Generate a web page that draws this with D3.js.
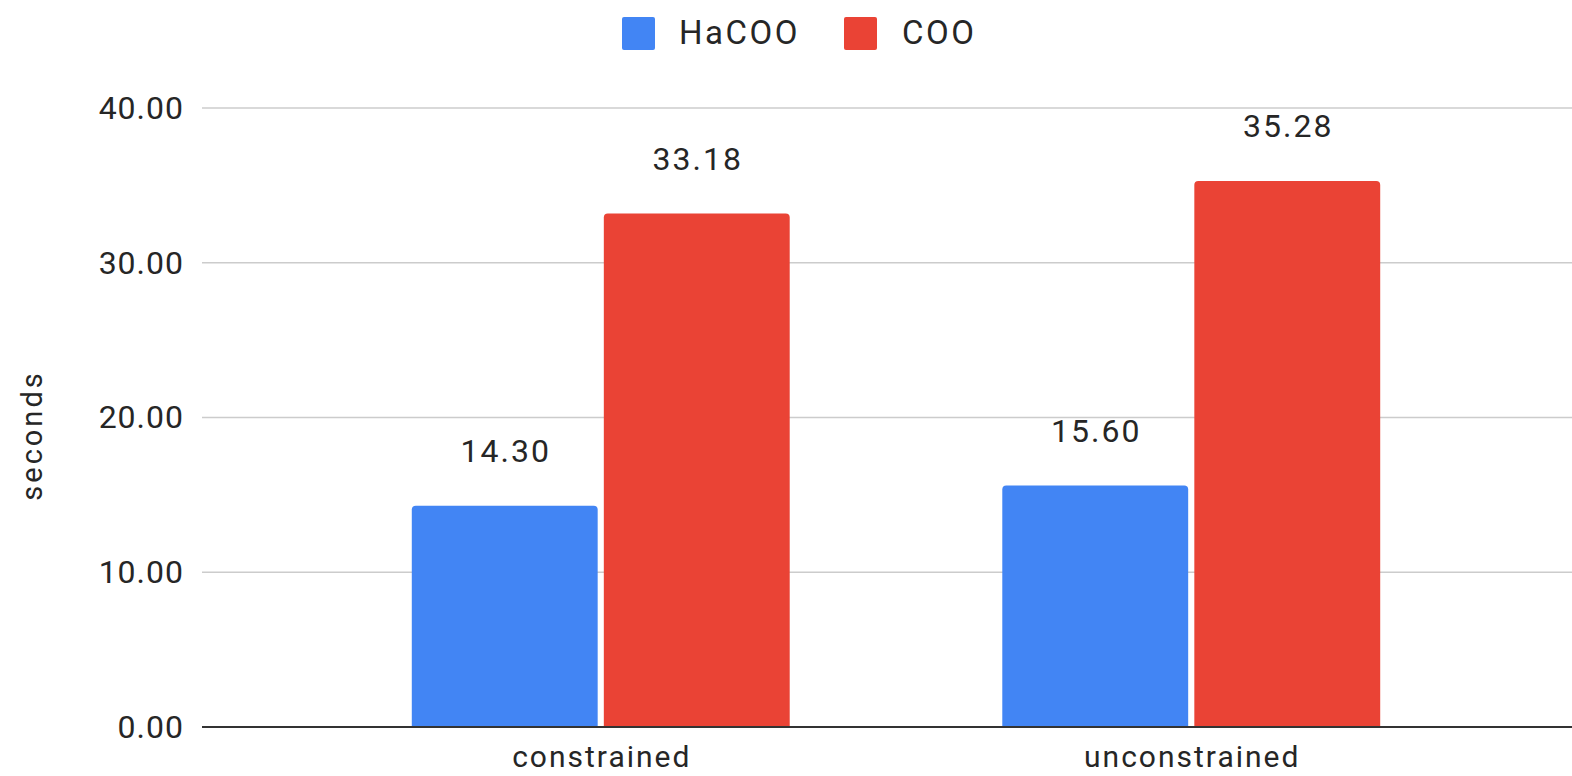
<!DOCTYPE html>
<html>
<head>
<meta charset="utf-8">
<script src="https://cdn.jsdelivr.net/npm/d3@7"></script>
<style>
  html, body { margin: 0; padding: 0; background: #fff; }
  svg { display: block; font-family: Roboto, "Noto Sans", sans-serif; }
</style>
</head>
<body>
<svg id="chart" width="1572" height="776"></svg>
<script>
// Run times (seconds) per mode
const categories = ["constrained", "unconstrained"];
const seriesNames = ["HaCOO", "COO"];
const hacooValues = [14.30, 15.60];
const cooValues = [33.18, 35.28];
const yTicks = [0, 10, 20, 30, 40];
const seriesColors = ["#4285F4", "#EA4335"];

const seriesValues = [hacooValues, cooValues];
const rows = categories.map((c, i) => ({
  category: c,
  values: seriesNames.map((s, j) => ({ series: s, value: seriesValues[j][i], color: seriesColors[j] }))
}));

const svg = d3.select("#chart");
const plotLeft = 202, plotRight = 1572, plotTop = 108, plotBottom = 727;

const y = d3.scaleLinear().domain([0, 40]).range([plotBottom, plotTop]);

const x0 = d3.scaleBand()
  .domain(categories)
  .range([305.5, 1486.5])
  .paddingInner(0.36)
  .paddingOuter(0.18);

const x1 = d3.scaleBand()
  .domain(seriesNames)
  .range([0, x0.bandwidth()])
  .paddingInner(0.032);

const textColor = "#262626";

// Horizontal gridlines
svg.append("g")
  .selectAll("line")
  .data(yTicks.filter(t => t > 0))
  .join("line")
  .attr("x1", plotLeft).attr("x2", plotRight)
  .attr("y1", d => y(d)).attr("y2", d => y(d))
  .attr("stroke", "#cccccc")
  .attr("stroke-width", 1.5);

// Y axis labels
const yAxis = d3.axisLeft(y).tickValues(yTicks).tickFormat(d3.format(".2f")).tickSize(0).tickPadding(18);
const yg = svg.append("g").attr("transform", `translate(${plotLeft},0)`).call(yAxis);
yg.select(".domain").remove();
yg.selectAll("text")
  .attr("fill", textColor)
  .attr("font-size", 32)
  .attr("letter-spacing", 1)
  .attr("font-family", "Roboto, sans-serif");

// Axis title
svg.append("text")
  .attr("transform", `translate(42,${(plotTop + plotBottom) / 2 + 18}) rotate(-90)`)
  .attr("text-anchor", "middle")
  .attr("font-size", 29)
  .attr("letter-spacing", 3)
  .attr("fill", textColor)
  .text("seconds");

// Rounded-top bar path
function barPath(x, yTop, w, h, r) {
  r = Math.min(r, w / 2, h);
  return `M${x},${yTop + h}V${yTop + r}Q${x},${yTop} ${x + r},${yTop}H${x + w - r}Q${x + w},${yTop} ${x + w},${yTop + r}V${yTop + h}Z`;
}

const groups = svg.append("g")
  .selectAll("g")
  .data(rows)
  .join("g")
  .attr("transform", d => `translate(${x0(d.category)},0)`);

groups.selectAll("path")
  .data(d => d.values)
  .join("path")
  .attr("d", d => barPath(x1(d.series), y(d.value), x1.bandwidth(), y(0) - y(d.value), 4))
  .attr("fill", d => d.color);

// Value labels
groups.selectAll("text.val")
  .data(d => d.values)
  .join("text")
  .attr("class", "val")
  .attr("x", d => x1(d.series) + x1.bandwidth() / 2 + 1)
  .attr("y", d => y(d.value) - 44)
  .attr("text-anchor", "middle")
  .attr("font-size", 32)
  .attr("letter-spacing", 2)
  .attr("fill", textColor)
  .text(d => d3.format(".2f")(d.value));

// Baseline
svg.append("line")
  .attr("x1", plotLeft).attr("x2", plotRight)
  .attr("y1", y(0)).attr("y2", y(0))
  .attr("stroke", "#333333")
  .attr("stroke-width", 2);

// Category labels
const xAxis = d3.axisBottom(x0).tickSize(0).tickPadding(19);
const xg = svg.append("g").attr("transform", `translate(0,${plotBottom})`).call(xAxis);
xg.select(".domain").remove();
xg.selectAll("text")
  .attr("fill", textColor)
  .attr("font-size", 30)
  .attr("letter-spacing", 2)
  .attr("dx", 1)
  .attr("font-family", "Roboto, sans-serif");

// Legend
const legendItems = [
  { name: seriesNames[0], color: seriesColors[0], x: 622, tx: 679 },
  { name: seriesNames[1], color: seriesColors[1], x: 844, tx: 902 }
];
const legend = svg.append("g");
legendItems.forEach(it => {
  legend.append("rect")
    .attr("x", it.x).attr("y", 17)
    .attr("width", 33).attr("height", 33)
    .attr("rx", 2)
    .attr("fill", it.color);
  legend.append("text")
    .attr("x", it.tx).attr("y", 44)
    .attr("font-size", 33)
    .attr("letter-spacing", 2.5)
    .attr("fill", textColor)
    .text(it.name);
});
</script>
</body>
</html>
